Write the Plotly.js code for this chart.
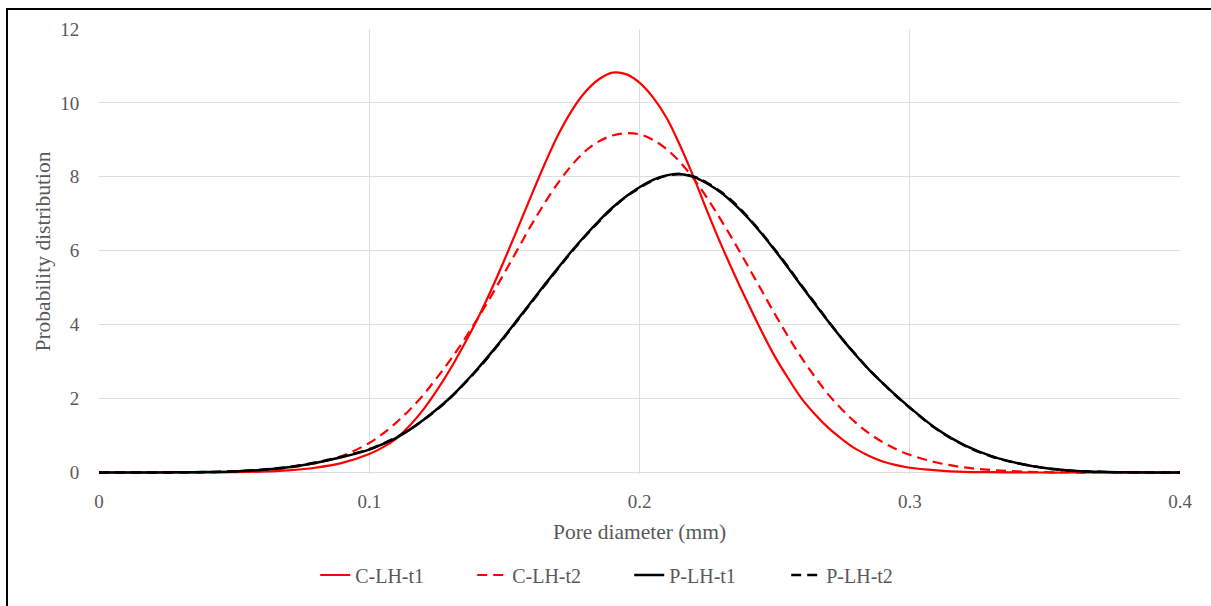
<!DOCTYPE html>
<html><head><meta charset="utf-8">
<script src="https://cdn.plot.ly/plotly-3.0.1.min.js"></script>
<style>html,body{margin:0;padding:0;background:#fff}#chart{width:1211px;height:606px}</style>
</head><body><div id="chart"></div>
<script>
const poreDiameter = [0,0.01,0.02,0.03,0.04,0.05,0.06,0.07,0.08,0.09,
  0.100,0.105,0.110,0.115,0.120,0.125,0.130,0.135,0.140,0.145,0.150,0.155,0.160,0.165,0.170,0.175,0.180,0.185,0.190,0.195,
  0.200,0.205,0.210,0.215,0.220,0.225,0.230,0.235,0.240,0.245,0.250,0.255,0.260,0.265,0.270,0.275,0.280,0.285,0.290,0.295,0.300,
  0.31,0.32,0.33,0.34,0.35,0.36,0.37,0.38,0.39,0.40];
const cLHt1 = [0,0,0,0,0.003,0.01,0.025,0.06,0.13,0.26,
  0.5,0.68,0.92,1.27,1.7,2.22,2.8,3.45,4.15,4.92,5.75,6.62,7.5,8.36,9.15,9.8,10.3,10.64,10.82,10.78,
  10.55,10.15,9.6,8.85,8.0,7.08,6.2,5.38,4.6,3.85,3.15,2.55,2.0,1.57,1.2,0.9,0.64,0.45,0.3,0.2,0.13,
  0.06,0.02,0.01,0.003,0,0,0,0,0,0];
const cLHt2 = [0,0,0,0,0.01,0.025,0.06,0.13,0.25,0.45,
  0.8,1.05,1.35,1.7,2.1,2.56,3.05,3.58,4.15,4.76,5.4,6.05,6.7,7.3,7.85,8.32,8.7,8.96,9.12,9.18,
  9.15,9.0,8.75,8.4,7.95,7.43,6.85,6.24,5.6,4.95,4.3,3.68,3.1,2.58,2.1,1.7,1.35,1.06,0.82,0.63,0.48,
  0.27,0.14,0.07,0.03,0.01,0,0,0,0,0];
const pLHt1 = [0,0,0,0.005,0.012,0.03,0.07,0.14,0.26,0.42,
  0.62,0.77,0.94,1.16,1.42,1.71,2.03,2.4,2.8,3.23,3.68,4.15,4.62,5.09,5.55,6.0,6.42,6.81,7.17,7.47,
  7.72,7.92,8.04,8.08,8.0,7.82,7.58,7.27,6.9,6.48,6.02,5.54,5.04,4.55,4.07,3.61,3.18,2.78,2.42,2.08,1.76,
  1.18,0.75,0.45,0.25,0.12,0.05,0.02,0.005,0,0];
const pLHt2 = [0,0,0,0.005,0.013,0.032,0.075,0.15,0.27,0.43,
  0.63,0.78,0.95,1.16,1.42,1.7,2.02,2.39,2.78,3.21,3.66,4.13,4.6,5.07,5.53,5.98,6.4,6.79,7.15,7.46,
  7.7,7.9,8.03,8.07,8.01,7.84,7.6,7.3,6.92,6.5,6.04,5.56,5.06,4.57,4.08,3.62,3.19,2.78,2.42,2.07,1.75,
  1.17,0.74,0.44,0.25,0.12,0.05,0.02,0.005,0,0];
const seriesNames = ['C-LH-t1','C-LH-t2','P-LH-t1','P-LH-t2'];
const xTicks = [0,0.1,0.2,0.3,0.4];
const xTickText = ['0','0.1','0.2','0.3','0.4'];
const yTicks = [0,2,4,6,8,10,12];

const FONT = 'Liberation Serif';
const mk = (y, name, color, dash, w) => ({
  x: poreDiameter, y: y, name: name, type: 'scatter', mode: 'lines',
  line: {color: color, width: w, dash: dash, shape: 'spline', smoothing: 1},
  hoverinfo: 'skip'
});
const traces = [
  mk(cLHt1, seriesNames[0], '#ff0000', 'solid', 2.2),
  mk(cLHt2, seriesNames[1], '#ff0000', '10px,6px', 2.2),
  mk(pLHt1, seriesNames[2], '#000000', 'solid', 2.5),
  mk(pLHt2, seriesNames[3], '#000000', '10px,6px', 2.5)
];
const layout = {
  width: 1211, height: 606,
  margin: {l: 99, r: 31, t: 29, b: 130},
  paper_bgcolor: '#ffffff', plot_bgcolor: '#ffffff',
  font: {family: FONT, color: '#595959', size: 19},
  showlegend: true,
  legend: {orientation: 'h', x: 0.2, xanchor: 'left', y: -0.227, yanchor: 'middle',
    entrywidth: 112, entrywidthmode: 'pixels',
    font: {family: FONT, size: 20, color: '#595959'}, traceorder: 'normal', bgcolor: 'rgba(0,0,0,0)'},
  xaxis: {
    range: [0, 0.4], tickvals: xTicks, ticktext: xTickText,
    showgrid: true, gridcolor: '#dedede', gridwidth: 1, zeroline: false, showline: false,
    ticks: 'outside', ticklen: 10, tickcolor: 'rgba(0,0,0,0)',
    tickfont: {family: FONT, size: 19, color: '#595959'},
    title: {text: 'Pore diameter (mm)', font: {family: FONT, size: 21.5, color: '#595959'}, standoff: 13}
  },
  yaxis: {
    range: [-0.04, 12], tickvals: yTicks,
    showgrid: true, gridcolor: '#dedede', gridwidth: 1, zeroline: false, showline: false,
    ticks: 'outside', ticklen: 15, tickcolor: 'rgba(0,0,0,0)',
    tickfont: {family: FONT, size: 19, color: '#595959'},
    title: {text: 'Probability distribution', font: {family: FONT, size: 21.5, color: '#595959'}, standoff: 3}
  },
  shapes: [
    {type: 'rect', xref: 'paper', yref: 'paper', x0: -0.0851, x1: 1.06, y0: -0.4, y1: 1.0447,
     line: {color: '#000000', width: 2}, fillcolor: 'rgba(0,0,0,0)', layer: 'above'}
  ],
  hovermode: false
};
Plotly.newPlot('chart', traces, layout, {displayModeBar: false, staticPlot: true});
</script>
</body></html>
